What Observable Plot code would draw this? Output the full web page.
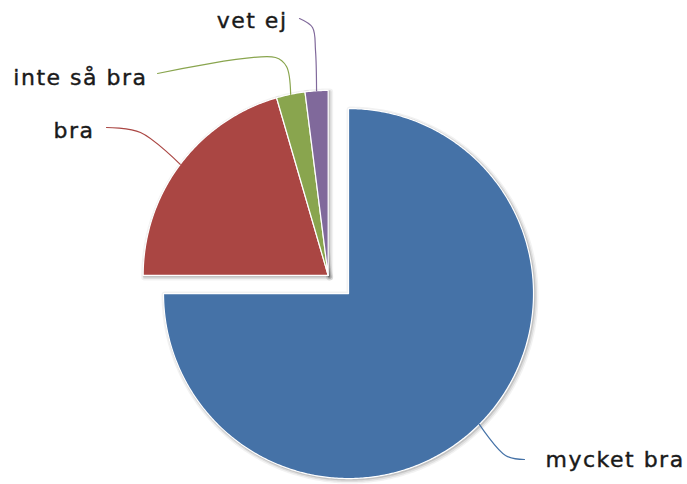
<!DOCTYPE html>
<html><head><meta charset="utf-8">
<script src="https://cdn.jsdelivr.net/npm/d3@7"></script>
<script src="https://cdn.jsdelivr.net/npm/@observablehq/plot@0.6"></script>
<style>body{margin:0;background:#fff}</style>
</head><body><div id="chart"></div>
<script>
const categories = ["mycket bra", "bra", "inte så bra", "vet ej"];
const values = [75, 20.5, 2.5, 2];
const colors = ["#4572A7", "#AA4643", "#89A54E", "#80699B"];

// layout (pixels)
const W = 687, H = 484, CX = 337.85, CY = 284, R = 185;
const toX = px => (px - CX) / R, toY = py => (CY - py) / R;
// exploded offsets in radius units
const explode = [[0.055, -0.049], [-0.055, 0.049], [-0.055, 0.049], [-0.055, 0.049]];
// label anchors (pixels) and connector elbows
const labelPos = [
  {anchor: "start", px: 545, py: 459, via: [[524, 459], [505, 455]]},
  {anchor: "end", px: 94, py: 130, via: [[106, 127], [140, 132]]},
  {anchor: "end", px: 147, py: 77, via: [[157, 73], [275, 57], [286, 66]]},
  {anchor: "end", px: 287, py: 20, via: [[299, 18], [312, 27], [315, 50]]}
];

const arcs = d3.pie().sort(null)(values);
const slices = [], connectors = [], labels = [];
arcs.forEach((a, i) => {
  const [ox, oy] = explode[i];
  const name = categories[i];
  slices.push({name, x: ox, y: oy});
  const n = Math.max(2, Math.ceil((a.endAngle - a.startAngle) / 0.01));
  for (let k = 0; k <= n; k++) {
    const t = a.startAngle + (a.endAngle - a.startAngle) * k / n;
    slices.push({name, x: ox + Math.sin(t), y: oy + Math.cos(t)});
  }
  slices.push({name, x: ox, y: oy});
  const L = labelPos[i];
  L.via.forEach(([px, py]) => connectors.push({name, x: toX(px), y: toY(py)}));
  const mid = (a.startAngle + a.endAngle) / 2;
  connectors.push({name, x: ox + Math.sin(mid), y: oy + Math.cos(mid)});
  labels.push({name, anchor: L.anchor, x: toX(L.px), y: toY(L.py)});
});

const plot = Plot.plot({
  width: W, height: H, margin: 0,
  x: {domain: [toX(0), toX(W)], axis: null},
  y: {domain: [toY(H), toY(0)], axis: null},
  color: {domain: categories, range: colors},
  style: {fontFamily: "DejaVu Sans", background: "#fff", overflow: "visible", letterSpacing: "1.5px"},
  marks: [
    Plot.line(slices, {x: "x", y: "y", z: "name", stroke: "#000", strokeOpacity: 0.05, strokeWidth: 7, dx: 1.5, dy: 1.5, strokeLinejoin: "round"}),
    Plot.line(slices, {x: "x", y: "y", z: "name", stroke: "#000", strokeOpacity: 0.08, strokeWidth: 4, dx: 1.5, dy: 1.5, strokeLinejoin: "round"}),
    Plot.line(slices, {x: "x", y: "y", z: "name", stroke: "#000", strokeOpacity: 0.12, strokeWidth: 2, dx: 1, dy: 1, strokeLinejoin: "round"}),
    Plot.line(slices, {x: "x", y: "y", z: "name", fill: "name", stroke: "#fff", strokeWidth: 1.2, strokeLinejoin: "round"}),
    Plot.line(connectors, {x: "x", y: "y", z: "name", stroke: "name", strokeWidth: 1.2, curve: "catmull-rom"}),
    Plot.text(labels.filter(d => d.anchor === "start"), {x: "x", y: "y", text: "name", textAnchor: "start", fontSize: 22, fill: "#1a1a1a", stroke: "#1a1a1a", strokeWidth: 0.4}),
    Plot.text(labels.filter(d => d.anchor === "end"), {x: "x", y: "y", text: "name", textAnchor: "end", fontSize: 22, fill: "#1a1a1a", stroke: "#1a1a1a", strokeWidth: 0.4})
  ]
});
document.getElementById("chart").append(plot);
</script>
</body></html>
